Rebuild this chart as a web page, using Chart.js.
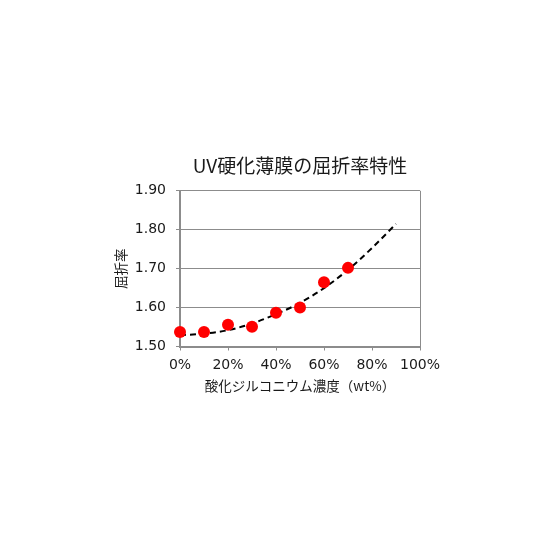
<!DOCTYPE html>
<html>
<head>
<meta charset="utf-8">
<script src="https://cdn.jsdelivr.net/npm/chart.js@4"></script>
<style>
html,body{margin:0;padding:0;background:#fff;}
#wrap{width:560px;height:560px;}
</style>
</head>
<body>
<div id="wrap"><canvas id="c" width="560" height="560"></canvas></div>
<script>
// Data
const concentration = [0, 10, 20, 30, 40, 50, 60, 70];           // wt%
const refractiveIndex = [1.537, 1.537, 1.556, 1.551, 1.587, 1.600, 1.665, 1.702];
const trendX = [0, 10, 20, 30, 40, 50, 60, 70, 80, 90];
const trendY = [1.529, 1.533, 1.542, 1.559, 1.583, 1.612, 1.650, 1.697, 1.753, 1.815];
const xTicks = [0, 20, 40, 60, 80, 100];
const yTicks = [1.50, 1.60, 1.70, 1.80, 1.90];
const chartTitle = 'UV硬化薄膜の屈折率特性';
const xTitle = '酸化ジルコニウム濃度（wt%）';
const yTitle = '屈折率';

const gridGray = '#8c8c8c';
const textColor = '#1a1a1a';

new Chart(document.getElementById('c'), {
  type: 'scatter',
  data: {
    datasets: [
      {
        label: 'trend',
        type: 'line',
        data: trendX.map((x, i) => ({x: x, y: trendY[i]})),
        borderColor: '#000',
        borderWidth: 2,
        borderDash: [6, 4],
        pointRadius: 0,
        fill: false,
        cubicInterpolationMode: 'monotone',
        clip: false,
        order: 2
      },
      {
        label: '屈折率',
        data: concentration.map((x, i) => ({x: x, y: refractiveIndex[i]})),
        backgroundColor: '#ff0000',
        borderColor: '#ff0000',
        borderWidth: 0,
        pointRadius: 6,
        clip: false,
        order: 1
      }
    ]
  },
  options: {
    responsive: false,
    animation: false,
    layout: {padding: {left: 100, right: 140, top: 154, bottom: 166.5}},
    plugins: {
      legend: {display: false},
      tooltip: {enabled: false},
      title: {
        display: true,
        text: chartTitle,
        fullSize: false,
        color: textColor,
        font: {family: '"Noto Sans CJK JP", sans-serif', size: 19, weight: 'normal', lineHeight: 1.2},
        padding: {top: 0, bottom: 14}
      }
    },
    scales: {
      x: {
        type: 'linear',
        min: 0, max: 100,
        afterBuildTicks: s => { s.ticks = xTicks.map(v => ({value: v})); },
        afterFit: s => { s.height = 47; },
        ticks: {
          callback: v => v + '%',
          color: textColor,
          font: {family: '"DejaVu Sans", sans-serif', size: 14},
          padding: 6,
          maxRotation: 0
        },
        grid: {
          color: ctx => (ctx.tick && ctx.tick.value === 100) ? gridGray : 'rgba(0,0,0,0)',
          tickColor: gridGray,
          tickLength: 4,
          lineWidth: 1
        },
        border: {color: gridGray, width: 2},
        title: {
          display: true,
          text: xTitle,
          color: textColor,
          font: {family: '"Noto Sans CJK JP", sans-serif', size: 13.5, lineHeight: 1.2},
          padding: {top: 0, bottom: 0}
        }
      },
      y: {
        min: 1.5, max: 1.9,
        afterBuildTicks: s => { s.ticks = yTicks.map(v => ({value: v})); },
        afterFit: s => { s.width = 80; },
        ticks: {
          callback: v => Number(v).toFixed(2),
          color: textColor,
          font: {family: '"DejaVu Sans", sans-serif', size: 14},
          padding: 10
        },
        grid: {
          color: gridGray,
          tickColor: gridGray,
          tickLength: 4,
          lineWidth: 1
        },
        border: {color: gridGray, width: 2},
        title: {
          display: true,
          text: yTitle,
          color: textColor,
          font: {family: '"Noto Sans CJK JP", sans-serif', size: 13.5, lineHeight: 1.2},
          padding: {top: 13, bottom: 0}
        }
      }
    }
  }
});
</script>
</body>
</html>
